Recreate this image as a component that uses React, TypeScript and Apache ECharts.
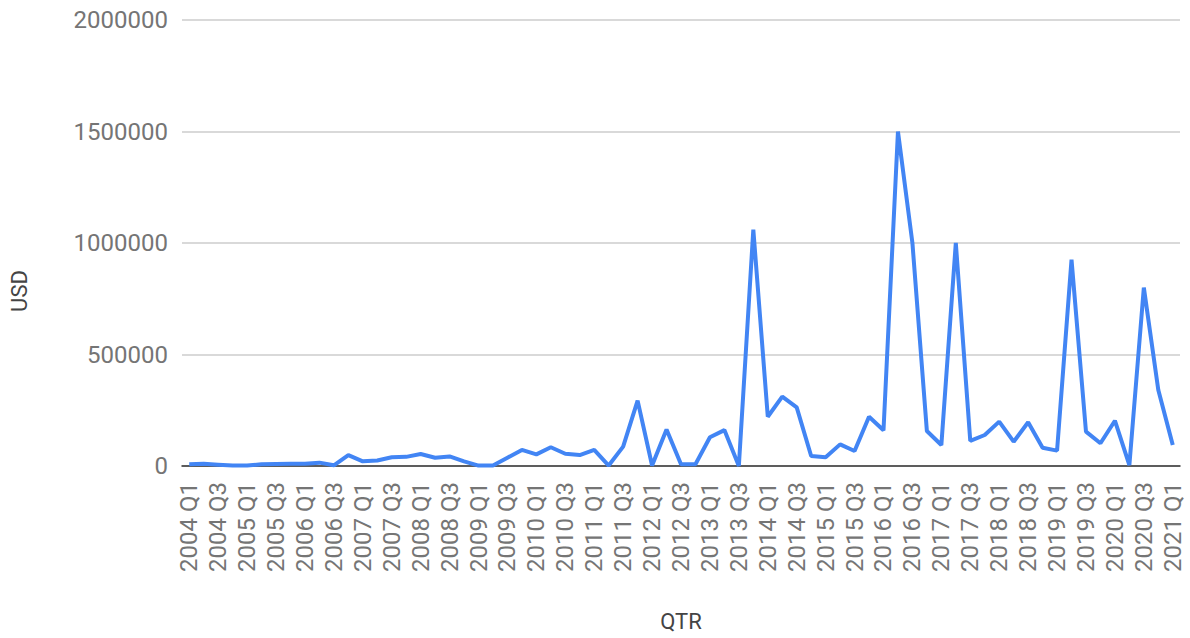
import React, { useEffect, useRef } from "react";
import * as echarts from "echarts";

const quarters: string[] = [];
for (let y = 2004; y <= 2021; y++) {
  for (let q = 1; q <= 4; q++) {
    if (y === 2021 && q > 1) break;
    quarters.push(`${y} Q${q}`);
  }
}

const usd: number[] = [
  8000, 10000, 6000, 2000, 2000, 8000, 9000, 10000, 10000, 15000,
  3000, 49000, 21000, 25000, 39000, 41000, 54000, 37000, 43000, 21000,
  2000, 2000, 37000, 72000, 52000, 84000, 55000, 49000, 72000, 2000,
  87000, 293000, 2000, 164000, 8000, 8000, 129000, 161000, 0, 1060000,
  221000, 311000, 263000, 45000, 39000, 97000, 67000, 221000, 160000, 1500000,
  1000000, 157000, 94000, 1000000, 113000, 139000, 199000, 109000, 196000, 82000,
  69000, 925000, 154000, 102000, 203000, 4000, 800000, 341000, 94000,
];

const yTicks = { min: 0, max: 2000000, interval: 500000 };

export default function App() {
  const ref = useRef<HTMLDivElement>(null);
  useEffect(() => {
    if (!ref.current) return;
    const chart = echarts.init(ref.current, null, { renderer: "svg" });
    chart.setOption({
      animation: false,
      textStyle: { fontFamily: "Roboto" },
      grid: { left: 182, right: 10, top: 20, bottom: 172, containLabel: false },
      xAxis: {
        type: "category",
        data: quarters,
        boundaryGap: true,
        axisLine: { show: true, lineStyle: { color: "#333333", width: 1.5 } },
        axisTick: { show: false },
        axisLabel: {
          interval: 1,
          rotate: 90,
          color: "#757575",
          fontSize: 24,
          margin: 16,
          fontFamily: "Roboto",
        },
        splitLine: { show: false },
      },
      yAxis: {
        type: "value",
        min: yTicks.min,
        max: yTicks.max,
        interval: yTicks.interval,
        axisLine: { show: false },
        axisTick: { show: false },
        axisLabel: {
          color: "#757575",
          fontSize: 24,
          margin: 14,
          fontFamily: "Roboto",
          formatter: (v: number) => String(v),
        },
        splitLine: { lineStyle: { color: "#cccccc", width: 1.5 } },
      },
      graphic: [
        {
          type: "text",
          x: 19,
          y: 291,
          rotation: Math.PI / 2,
          style: {
            text: "USD",
            fill: "#444444",
            font: "22px Roboto",
            align: "center",
            verticalAlign: "middle",
          },
        },
        {
          type: "text",
          x: 681,
          y: 621,
          style: {
            text: "QTR",
            fill: "#444444",
            font: "22px Roboto",
            align: "center",
            verticalAlign: "middle",
          },
        },
      ],
      series: [
        {
          type: "line",
          data: usd,
          showSymbol: false,
          symbol: "none",
          lineStyle: { color: "#4285F4", width: 4 },
          itemStyle: { color: "#4285F4" },
        },
      ],
    });
    return () => chart.dispose();
  }, []);
  return <div ref={ref} style={{ width: 1190, height: 638, position: "absolute", left: 0, top: 0 }} />;
}
